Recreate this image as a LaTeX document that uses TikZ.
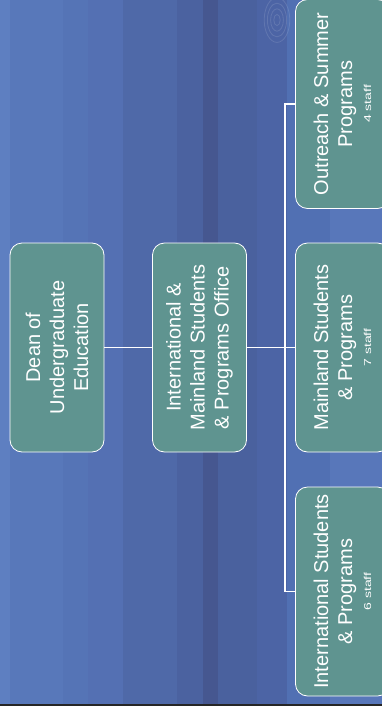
\documentclass[tikz,border=0pt]{standalone}
\usepackage{fontspec}
\setmainfont{Liberation Sans}
\definecolor{boxteal}{HTML}{5F9490}
\definecolor{bandA}{HTML}{5E7FC1}
\definecolor{bandB}{HTML}{5878BA}
\definecolor{bandC}{HTML}{5574B6}
\definecolor{bandD}{HTML}{5470B3}
\definecolor{bandE}{HTML}{4F69A8}
\definecolor{bandF}{HTML}{4B62A0}
\definecolor{bandG}{HTML}{465790}
\definecolor{bandH}{HTML}{4A619E}
\definecolor{bandI}{HTML}{4C64A5}
\definecolor{bandJ}{HTML}{5170B3}
\definecolor{bandK}{HTML}{5877BA}
\newcommand{\staffnote}[1]{{\fontsize{10}{12}\selectfont\addfontfeature{FakeStretch=1.4}#1}}
\tikzset{
  unit/.style={rotate=90, draw=white, line width=0.8pt, fill=boxteal,
    rounded corners=12pt, text=white, align=center,
    minimum width=209pt, minimum height=94pt, inner sep=2pt,
    font=\fontsize{20}{24}\selectfont},
  link/.style={draw=white, line width=1.3pt},
}
\begin{document}
\begin{tikzpicture}[x=1pt, y=-1pt]
  \clip (0,0) rectangle (382,706);
  % background bands
  \foreach \xa/\xb/\col in {0/10/bandA, 10/63/bandB, 63/88/bandC, 88/123/bandD,
      123/177/bandE, 177/203/bandF, 203/218/bandG, 218/257/bandH,
      257/287/bandI, 287/330/bandJ, 330/382/bandK}
    \fill[\col] (\xa,0) rectangle (\xb,706);
  \foreach \r in {4,8,12,16}
    \draw[white, opacity=0.12, line width=0.8pt] (277,20) ellipse ({\r*0.8} and \r*1.4);
  \fill[black!85] (0,703.5) rectangle (382,706);

  % boxes
  \node[unit] (dean) at (57,347.5) {Dean of\\Undergraduate\\Education};
  \node[unit] (office) at (199.5,347.5) {International \&\\Mainland Students\\\& Programs Office};
  \node[unit] (mainland) at (342.5,347.5) {Mainland Students\\\& Programs\\[-5pt]\staffnote{7 staff}};
  \node[unit] (outreach) at (342.5,104) {Outreach \& Summer\\Programs\\[-5pt]\staffnote{4 staff}};
  \node[unit] (intl) at (342.5,591.5) {International Students\\\& Programs\\[-5pt]\staffnote{6 staff}};

  % connectors
  \draw[link] (dean.south) -- (office.north);
  \draw[link] (office.south) -- (mainland.north);
  \coordinate (bus) at (285,104);
  \draw[link] (outreach.north) -- (bus) |- (intl.north);
\end{tikzpicture}
\end{document}
